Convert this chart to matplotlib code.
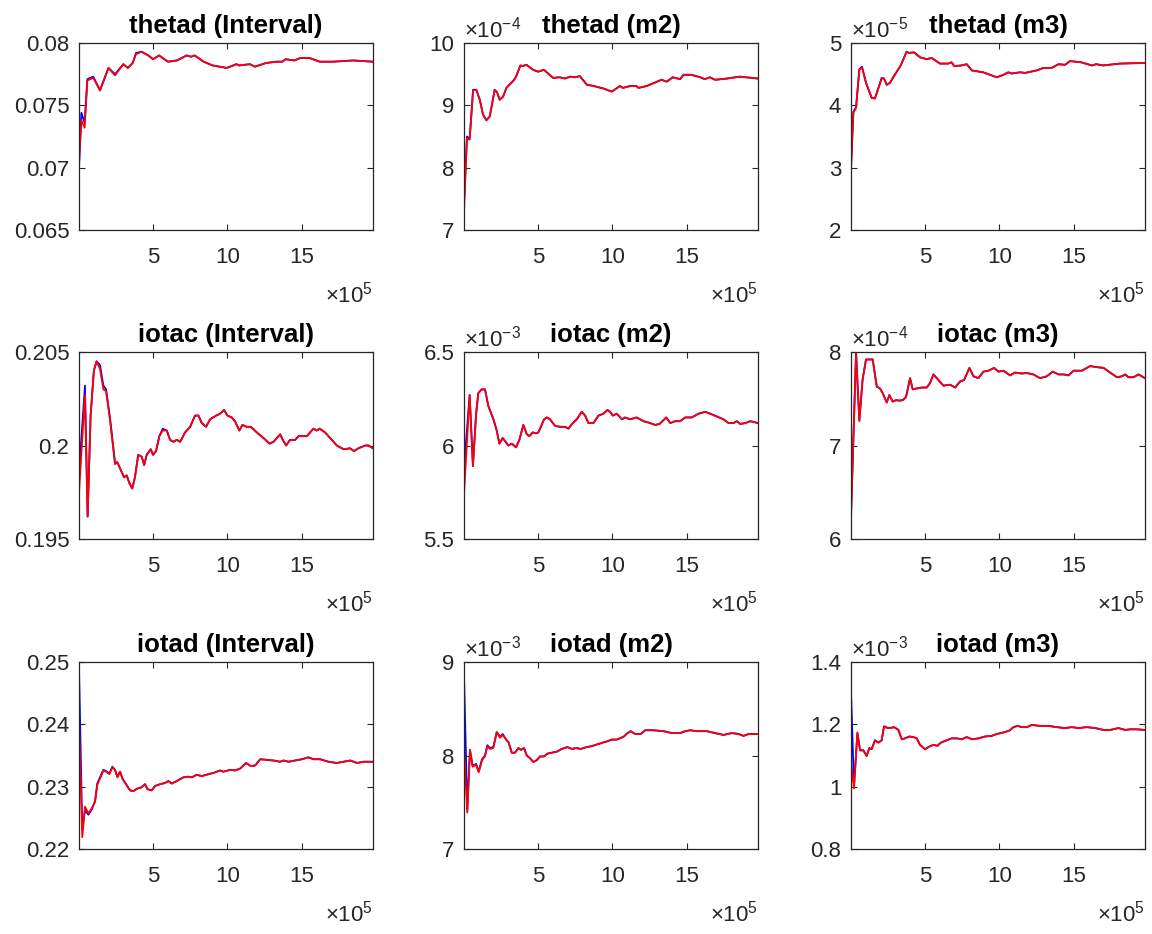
import matplotlib
matplotlib.use('Agg')
import matplotlib.pyplot as plt
from matplotlib.ticker import FormatStrFormatter

plt.rcParams['font.family'] = ['Liberation Sans', 'DejaVu Sans']
plt.rcParams['mathtext.fontset'] = 'custom'
plt.rcParams['mathtext.rm'] = 'Liberation Sans'
plt.rcParams['mathtext.it'] = 'Liberation Sans:italic'
plt.rcParams['mathtext.bf'] = 'Liberation Sans:bold'

# draws in units of 1e5
# ---- thetad (Interval)
x1 = [0.02, 0.18, 0.4, 0.58, 0.98, 1.43, 2.0, 2.44, 3.0, 3.3, 3.63, 3.85, 4.23, 4.68, 5.0, 5.4,
      6.0, 6.6, 7.26, 7.55, 7.8, 8.4, 9.0, 9.95, 10.6, 10.8, 11.5, 11.85, 12.6, 13.3, 13.7, 13.9,
      14.5, 14.9, 15.5, 16.2, 17.1, 18.45, 19.78]
red1 = [0.0705, 0.0738, 0.0732, 0.0770, 0.0772, 0.0762, 0.0780, 0.0774, 0.0783, 0.0780, 0.0784,
        0.0791, 0.0793, 0.0790, 0.0787, 0.0790, 0.0785, 0.0786, 0.0790, 0.0789, 0.0790, 0.0785,
        0.0782, 0.0780, 0.0783, 0.0782, 0.0783, 0.0781, 0.0784, 0.0785, 0.0785, 0.0787, 0.0786,
        0.0788, 0.0788, 0.0785, 0.0785, 0.0786, 0.0785]
blue1 = [0.0700, 0.0744, 0.0736, 0.0771, 0.0773, 0.0762, 0.0780, 0.0775, 0.0783, 0.0780, 0.0784,
         0.0792, 0.0793, 0.0790, 0.0787, 0.0790, 0.0785, 0.0786, 0.0790, 0.0789, 0.0790, 0.0785,
         0.0782, 0.0780, 0.0783, 0.0782, 0.0783, 0.0781, 0.0784, 0.0785, 0.0785, 0.0787, 0.0786,
         0.0788, 0.0788, 0.0785, 0.0785, 0.0786, 0.0785]

# ---- thetad (m2), x1e-4
x2 = [0.02, 0.22, 0.4, 0.63, 0.85, 1.08, 1.3, 1.52, 1.75, 2.08, 2.24, 2.42, 2.65, 2.87, 3.32, 3.5,
      3.81, 3.95, 4.22, 4.66, 5.0, 5.4, 6.0, 6.45, 6.8, 7.15, 7.5, 7.8, 8.28, 8.73, 9.4, 9.95, 10.5,
      10.7, 11.2, 11.6, 11.75, 12.3, 13.0, 13.3, 13.65, 14.05, 14.55, 14.77, 15.3, 15.9, 16.2,
      16.55, 16.9, 17.7, 18.55, 19.78]
red2 = [7.29, 8.47, 8.45, 9.24, 9.25, 9.09, 8.85, 8.76, 8.82, 9.24, 9.21, 9.09, 9.14, 9.28, 9.39,
        9.45, 9.64, 9.63, 9.65, 9.57, 9.54, 9.57, 9.44, 9.45, 9.43, 9.46, 9.45, 9.47, 9.33, 9.31,
        9.27, 9.22, 9.31, 9.28, 9.31, 9.31, 9.28, 9.31, 9.38, 9.41, 9.38, 9.45, 9.42, 9.49, 9.49,
        9.45, 9.42, 9.45, 9.41, 9.43, 9.46, 9.43]
blue2 = [7.45, 8.50, 8.46, 9.25, 9.25, 9.09, 8.85, 8.76, 8.82, 9.25, 9.21, 9.09, 9.14, 9.28, 9.39,
         9.45, 9.64, 9.63, 9.65, 9.57, 9.54, 9.57, 9.44, 9.45, 9.43, 9.46, 9.45, 9.47, 9.33, 9.31,
         9.27, 9.22, 9.31, 9.28, 9.31, 9.31, 9.28, 9.31, 9.38, 9.41, 9.38, 9.45, 9.42, 9.49, 9.49,
         9.45, 9.42, 9.45, 9.41, 9.43, 9.46, 9.43]

# ---- thetad (m3), x1e-5
x3 = [0.02, 0.18, 0.36, 0.58, 0.76, 1.03, 1.41, 1.63, 2.08, 2.24, 2.42, 2.64, 2.91, 3.36, 3.76,
      3.94, 4.26, 4.66, 5.1, 5.44, 6.0, 6.56, 6.78, 6.96, 7.45, 7.8, 8.14, 8.9, 9.82, 10.26, 10.6,
      10.8, 11.4, 11.72, 12.5, 12.95, 13.5, 13.97, 14.4, 14.75, 15.5, 16.2, 16.5, 16.97, 18.1, 19.78]
red3 = [2.94, 3.88, 3.96, 4.57, 4.61, 4.36, 4.12, 4.11, 4.43, 4.43, 4.33, 4.36, 4.47, 4.64, 4.86,
        4.84, 4.85, 4.77, 4.74, 4.76, 4.67, 4.67, 4.69, 4.63, 4.64, 4.66, 4.56, 4.53, 4.45, 4.49,
        4.53, 4.51, 4.53, 4.52, 4.56, 4.60, 4.60, 4.66, 4.65, 4.71, 4.69, 4.64, 4.66, 4.64, 4.67, 4.68]
blue3 = [3.05, 3.90, 3.97, 4.58, 4.62, 4.36, 4.12, 4.11, 4.44, 4.43, 4.33, 4.36, 4.47, 4.64, 4.86,
         4.84, 4.85, 4.77, 4.74, 4.76, 4.67, 4.67, 4.69, 4.63, 4.64, 4.66, 4.56, 4.53, 4.45, 4.49,
         4.53, 4.51, 4.53, 4.52, 4.56, 4.60, 4.60, 4.66, 4.65, 4.71, 4.69, 4.64, 4.66, 4.64, 4.67, 4.68]

# ---- iotac (Interval)
x4 = [0.02, 0.42, 0.6, 0.8, 1.02, 1.2, 1.43, 1.66, 1.84, 2.1, 2.44, 2.6, 2.82, 3.05, 3.23, 3.4, 3.6,
      3.78, 4.0, 4.24, 4.4, 4.57, 4.84, 5.0, 5.2, 5.42, 5.65, 5.92, 6.14, 6.37, 6.59, 6.82, 7.15,
      7.49, 7.82, 8.05, 8.27, 8.56, 8.83, 9.24, 9.5, 9.77, 10.0, 10.28, 10.5, 10.8, 11.0, 11.3,
      11.57, 11.97, 12.42, 12.82, 13.1, 13.54, 13.72, 13.94, 14.2, 14.55, 14.78, 15.33, 15.78,
      16.0, 16.2, 16.56, 16.9, 17.35, 17.8, 18.24, 18.5, 18.8, 19.25, 19.47, 19.78]
red4 = [0.1975, 0.2027, 0.1962, 0.2016, 0.2040, 0.2045, 0.2041, 0.2030, 0.2029, 0.2014,
        0.1990, 0.1991, 0.1987, 0.1983, 0.1984, 0.1980, 0.1977, 0.1983, 0.1995, 0.1994,
        0.19895, 0.1995, 0.1998, 0.1995, 0.1997, 0.2005, 0.2008, 0.2008, 0.2003, 0.2002,
        0.2003, 0.2002, 0.2007, 0.2010, 0.2016, 0.2016, 0.2012, 0.2010, 0.2014, 0.2016,
        0.2017, 0.2019, 0.2016, 0.2015, 0.2013, 0.2008, 0.2011, 0.2010, 0.2010, 0.2007,
        0.2004, 0.2001, 0.2002, 0.2006, 0.2003, 0.2000, 0.2003, 0.2003, 0.2005, 0.2005,
        0.2009, 0.2008, 0.2009, 0.2007, 0.2004, 0.2000, 0.1998, 0.19985, 0.1997, 0.19985,
        0.2000, 0.2000, 0.19985]
blue4 = [0.1985, 0.2032, 0.1962, 0.2016, 0.2040, 0.2045, 0.2043, 0.2032, 0.2030, 0.2015,
         0.1991, 0.1991, 0.1987, 0.1983, 0.1984, 0.1980, 0.1977, 0.1983, 0.1995, 0.1994,
         0.19895, 0.1995, 0.1998, 0.1995, 0.1997, 0.2005, 0.2009, 0.2008, 0.2003, 0.2002,
         0.2003, 0.2002, 0.2007, 0.2010, 0.2016, 0.2016, 0.2012, 0.2010, 0.2014, 0.2016,
         0.2017, 0.2019, 0.2016, 0.2015, 0.2013, 0.2008, 0.2011, 0.2010, 0.2010, 0.2007,
         0.2004, 0.2001, 0.2002, 0.2006, 0.2003, 0.2000, 0.2003, 0.2003, 0.2005, 0.2005,
         0.2009, 0.2008, 0.2009, 0.2007, 0.2004, 0.2000, 0.1998, 0.19985, 0.1997, 0.19985,
         0.2000, 0.2000, 0.19985]

# ---- iotac (m2), x1e-3
x5 = [0.02, 0.4, 0.62, 0.83, 0.98, 1.21, 1.43, 1.66, 2.0, 2.22, 2.4, 2.62, 3.0, 3.23, 3.52, 3.74,
      4.01, 4.24, 4.41, 4.64, 4.86, 5.02, 5.4, 5.58, 5.8, 6.14, 6.48, 6.81, 7.04, 7.33, 7.6, 7.93,
      8.16, 8.38, 8.72, 9.06, 9.39, 9.66, 9.84, 10.02, 10.29, 10.63, 10.85, 11.19, 11.63, 12.08,
      12.53, 12.87, 13.16, 13.61, 13.88, 14.21, 14.55, 14.89, 15.33, 15.78, 16.23, 16.57, 17.02,
      17.46, 17.8, 18.14, 18.36, 18.58, 18.92, 19.26, 19.78]
red5 = [5.74, 6.27, 5.89, 6.16, 6.28, 6.30, 6.30, 6.21, 6.14, 6.08,
        6.01, 6.04, 6.00, 6.01, 5.99, 6.03, 6.11, 6.06, 6.05, 6.07,
        6.065, 6.07, 6.14, 6.15, 6.14, 6.105, 6.10, 6.10, 6.09, 6.12,
        6.14, 6.18, 6.16, 6.12, 6.12, 6.16, 6.17, 6.19, 6.18, 6.16,
        6.17, 6.14, 6.15, 6.14, 6.15, 6.13, 6.12, 6.11, 6.115, 6.15,
        6.12, 6.13, 6.13, 6.15, 6.15, 6.17, 6.18, 6.17, 6.155, 6.14,
        6.12, 6.12, 6.13, 6.115, 6.12, 6.13, 6.12]
blue5 = [5.88, 6.27, 5.89, 6.17, 6.28, 6.30, 6.30, 6.21, 6.14, 6.08,
         6.01, 6.04, 6.00, 6.01, 5.99, 6.03, 6.11, 6.06, 6.05, 6.07,
         6.065, 6.07, 6.14, 6.15, 6.14, 6.105, 6.10, 6.10, 6.09, 6.12,
         6.14, 6.18, 6.16, 6.12, 6.12, 6.16, 6.17, 6.19, 6.18, 6.16,
         6.17, 6.14, 6.15, 6.14, 6.15, 6.13, 6.12, 6.11, 6.115, 6.15,
         6.12, 6.13, 6.13, 6.15, 6.15, 6.17, 6.18, 6.17, 6.155, 6.14,
         6.12, 6.12, 6.13, 6.115, 6.12, 6.13, 6.12]

# ---- iotac (m3), x1e-4
x6 = [0.02, 0.36, 0.58, 0.8, 1.03, 1.3, 1.48, 1.75, 1.97, 2.15, 2.42, 2.6, 2.82, 3.05, 3.27, 3.5,
      3.72, 3.99, 4.17, 4.44, 4.78, 5.11, 5.34, 5.56, 5.9, 6.23, 6.68, 7.02, 7.35, 7.62, 7.98, 8.25,
      8.58, 8.92, 9.26, 9.64, 9.93, 10.27, 10.71, 11.05, 11.5, 11.84, 12.28, 12.73, 13.18, 13.58,
      13.97, 14.3, 14.64, 14.98, 15.54, 16.1, 16.43, 17.0, 17.44, 17.89, 18.23, 18.45, 18.67, 19.0,
      19.35, 19.78]
red6 = [6.22, 7.99, 7.26, 7.70, 7.92, 7.92, 7.92, 7.63, 7.61, 7.56,
        7.46, 7.54, 7.47, 7.485, 7.48, 7.485, 7.52, 7.72, 7.60, 7.61,
        7.62, 7.62, 7.67, 7.76, 7.70, 7.64, 7.65, 7.62, 7.685, 7.70,
        7.83, 7.74, 7.72, 7.79, 7.80, 7.83, 7.79, 7.80, 7.75, 7.78,
        7.77, 7.775, 7.76, 7.72, 7.74, 7.79, 7.76, 7.76, 7.75, 7.80,
        7.80, 7.85, 7.84, 7.83, 7.78, 7.73, 7.74, 7.76, 7.73, 7.73,
        7.76, 7.72]
blue6 = [6.25, 8.00, 7.27, 7.71, 7.92, 7.92, 7.92, 7.63, 7.61, 7.56,
         7.46, 7.54, 7.47, 7.485, 7.48, 7.485, 7.52, 7.72, 7.60, 7.61,
         7.62, 7.62, 7.67, 7.76, 7.70, 7.64, 7.65, 7.62, 7.685, 7.70,
         7.83, 7.74, 7.72, 7.79, 7.80, 7.83, 7.79, 7.80, 7.75, 7.78,
         7.77, 7.775, 7.76, 7.72, 7.74, 7.79, 7.76, 7.76, 7.75, 7.80,
         7.80, 7.85, 7.84, 7.83, 7.78, 7.73, 7.74, 7.76, 7.73, 7.73,
         7.76, 7.72]

# ---- iotad (Interval)
x7 = [0.02, 0.24, 0.42, 0.65, 0.87, 1.1, 1.25, 1.43, 1.66, 1.84, 2.06, 2.26, 2.44, 2.6, 2.78, 2.96,
      3.18, 3.45, 3.68, 3.94, 4.23, 4.46, 4.62, 4.91, 5.13, 5.47, 5.81, 6.03, 6.25, 6.59, 7.04,
      7.37, 7.6, 7.93, 8.27, 8.72, 9.06, 9.5, 9.73, 10.18, 10.51, 10.85, 11.25, 11.57, 11.86,
      12.2, 12.64, 13.09, 13.54, 13.76, 14.1, 14.55, 15.0, 15.44, 15.78, 16.23, 16.79, 17.35,
      17.8, 18.25, 18.7, 19.15, 19.78]
red7 = [0.2404, 0.2219, 0.2268, 0.2257, 0.2265, 0.2276, 0.2303, 0.2313, 0.2326, 0.2324,
        0.2320, 0.2331, 0.2327, 0.2315, 0.2324, 0.2312, 0.2304, 0.2294, 0.2293, 0.2297,
        0.2299, 0.2304, 0.2296, 0.2294, 0.2301, 0.2304, 0.2306, 0.2309, 0.2305, 0.2309,
        0.2315, 0.2316, 0.2315, 0.2319, 0.2317, 0.2320, 0.2322, 0.2326, 0.2324, 0.2327,
        0.2326, 0.2329, 0.2338, 0.2333, 0.2334, 0.2344, 0.2343, 0.2342, 0.2340, 0.2342,
        0.2340, 0.2342, 0.2344, 0.2347, 0.2344, 0.2344, 0.2340, 0.2338, 0.2340, 0.2342,
        0.2338, 0.2340, 0.2340]
blue7 = [0.2490, 0.2230, 0.2262, 0.2255, 0.2263, 0.2277, 0.2305, 0.2315, 0.2327, 0.2325,
         0.2321, 0.2332, 0.2327, 0.2316, 0.2324, 0.2312, 0.2304, 0.2294, 0.2293, 0.2297,
         0.2299, 0.2304, 0.2296, 0.2294, 0.2301, 0.2304, 0.2306, 0.2309, 0.2305, 0.2309,
         0.2315, 0.2316, 0.2315, 0.2319, 0.2317, 0.2320, 0.2322, 0.2326, 0.2324, 0.2327,
         0.2326, 0.2329, 0.2338, 0.2333, 0.2334, 0.2344, 0.2343, 0.2342, 0.2340, 0.2342,
         0.2340, 0.2342, 0.2344, 0.2347, 0.2344, 0.2344, 0.2340, 0.2338, 0.2340, 0.2342,
         0.2338, 0.2340, 0.2340]

# ---- iotad (m2), x1e-3
x8 = [0.02, 0.24, 0.42, 0.6, 0.83, 1.01, 1.23, 1.43, 1.59, 1.77, 1.99, 2.22, 2.44, 2.62, 2.85, 3.02,
      3.23, 3.45, 3.68, 3.85, 4.06, 4.24, 4.46, 4.68, 4.91, 5.13, 5.4, 5.63, 5.92, 6.25, 6.59, 6.97,
      7.26, 7.55, 7.87, 8.27, 8.61, 8.99, 9.39, 9.62, 9.95, 10.29, 10.74, 11.01, 11.23, 11.52,
      11.9, 12.19, 12.75, 13.43, 13.99, 14.55, 14.89, 15.22, 15.67, 16.34, 16.9, 17.46, 18.02,
      18.47, 18.81, 19.15, 19.78]
red8 = [8.08, 7.39, 8.06, 7.88, 7.90, 7.82, 7.95, 7.99, 8.10, 8.07,
        8.08, 8.25, 8.19, 8.22, 8.17, 8.14, 8.03, 8.03, 8.08, 8.06,
        8.08, 8.00, 7.97, 7.93, 7.95, 7.99, 7.99, 8.02, 8.03, 8.04,
        8.07, 8.09, 8.07, 8.08, 8.07, 8.09, 8.10, 8.12, 8.14, 8.15,
        8.17, 8.17, 8.20, 8.24, 8.26, 8.23, 8.23, 8.27, 8.27, 8.26,
        8.24, 8.24, 8.26, 8.27, 8.26, 8.26, 8.24, 8.22, 8.24, 8.23,
        8.21, 8.23, 8.23]
blue8 = [8.85, 7.42, 8.06, 7.89, 7.91, 7.83, 7.96, 8.00, 8.11, 8.08,
         8.09, 8.25, 8.20, 8.23, 8.17, 8.14, 8.03, 8.03, 8.08, 8.06,
         8.08, 8.00, 7.97, 7.93, 7.95, 7.99, 7.99, 8.02, 8.03, 8.04,
         8.07, 8.09, 8.07, 8.08, 8.07, 8.09, 8.10, 8.12, 8.14, 8.15,
         8.17, 8.17, 8.20, 8.24, 8.26, 8.23, 8.23, 8.27, 8.27, 8.26,
         8.24, 8.24, 8.26, 8.27, 8.26, 8.26, 8.24, 8.22, 8.24, 8.23,
         8.21, 8.23, 8.23]

# ---- iotad (m3), x1e-3
x9 = [0.02, 0.22, 0.45, 0.63, 0.85, 1.07, 1.25, 1.41, 1.63, 1.86, 2.08, 2.24, 2.46, 2.69, 2.91, 3.2,
      3.43, 3.65, 3.94, 4.21, 4.44, 4.66, 5.0, 5.29, 5.56, 5.83, 6.05, 6.41, 6.79, 7.13, 7.46, 7.8,
      8.14, 8.59, 9.03, 9.48, 9.82, 10.27, 10.67, 10.94, 11.21, 11.5, 11.84, 12.17, 12.73, 13.3,
      13.85, 14.41, 14.86, 15.31, 15.87, 16.43, 16.99, 17.44, 18.0, 18.45, 18.79, 19.24, 19.78]
red9 = [1.077, 0.994, 1.174, 1.116, 1.116, 1.098, 1.123, 1.120, 1.148, 1.141,
        1.148, 1.193, 1.188, 1.188, 1.191, 1.182, 1.152, 1.155, 1.161, 1.159,
        1.155, 1.134, 1.120, 1.129, 1.134, 1.131, 1.141, 1.148, 1.155, 1.155,
        1.152, 1.159, 1.152, 1.155, 1.161, 1.163, 1.169, 1.174, 1.180, 1.191,
        1.195, 1.191, 1.191, 1.198, 1.195, 1.195, 1.191, 1.188, 1.191, 1.188,
        1.191, 1.188, 1.182, 1.182, 1.188, 1.182, 1.184, 1.184, 1.182]
blue9 = [1.306, 1.000, 1.172, 1.117, 1.117, 1.099, 1.124, 1.121, 1.149, 1.142,
         1.149, 1.194, 1.189, 1.189, 1.191, 1.183, 1.152, 1.155, 1.161, 1.159,
         1.155, 1.134, 1.120, 1.129, 1.134, 1.131, 1.141, 1.148, 1.155, 1.155,
         1.152, 1.159, 1.152, 1.155, 1.161, 1.163, 1.169, 1.174, 1.180, 1.191,
         1.195, 1.191, 1.191, 1.198, 1.195, 1.195, 1.191, 1.188, 1.191, 1.188,
         1.191, 1.188, 1.182, 1.182, 1.188, 1.182, 1.184, 1.184, 1.182]

titles = ['thetad (Interval)', 'thetad (m2)', 'thetad (m3)',
          'iotac (Interval)', 'iotac (m2)', 'iotac (m3)',
          'iotad (Interval)', 'iotad (m2)', 'iotad (m3)']
yticks = [[0.065, 0.07, 0.075, 0.08], [7, 8, 9, 10], [2, 3, 4, 5],
          [0.195, 0.2, 0.205], [5.5, 6, 6.5], [6, 7, 8],
          [0.22, 0.23, 0.24, 0.25], [7, 8, 9], [0.8, 1, 1.2, 1.4]]
yexp = [None, '-4', '-5', None, '-3', '-4', None, '-3', '-3']
xs = [x1, x2, x3, x4, x5, x6, x7, x8, x9]
reds = [red1, red2, red3, red4, red5, red6, red7, red8, red9]
blues = [blue1, blue2, blue3, blue4, blue5, blue6, blue7, blue8, blue9]

grey = '#262626'
fig = plt.figure(figsize=(11.52, 9.34), dpi=100)
lefts = [79, 464, 851]
tops = [43, 352, 662]
W, H = 294, 187

for i in range(9):
    r, c = divmod(i, 3)
    ax = fig.add_axes([lefts[c] / 1152, 1 - (tops[r] + H) / 934, W / 1152, H / 934])
    ax.plot(xs[i], blues[i], color='b', lw=1.3)
    ax.plot(xs[i], reds[i], color='r', lw=1.3)
    ax.set_xlim(0.02, 19.78)
    ax.set_ylim(yticks[i][0], yticks[i][-1])
    ax.set_xticks([5, 10, 15])
    ax.set_yticks(yticks[i])
    ax.yaxis.set_major_formatter(FormatStrFormatter('%g'))
    ax.tick_params(direction='in', top=True, right=True, length=4, width=0.8,
                   colors=grey, labelsize=16)
    ax.tick_params(axis='x', pad=12)
    ax.tick_params(axis='y', pad=7)
    for s in ax.spines.values():
        s.set_color(grey)
        s.set_linewidth(0.9)
    ax.set_title(titles[i], fontsize=18.5, fontweight='bold', pad=7)
    ax.text(1.0, -0.39, r'$\times$10$^{5}$', transform=ax.transAxes, ha='right',
            va='baseline', fontsize=16, color=grey)
    if yexp[i]:
        ax.text(0.0, 1.027, r'$\times$10$^{%s}$' % yexp[i], transform=ax.transAxes,
                ha='left', va='baseline', fontsize=16, color=grey)

fig.savefig('out.png', dpi=100)
